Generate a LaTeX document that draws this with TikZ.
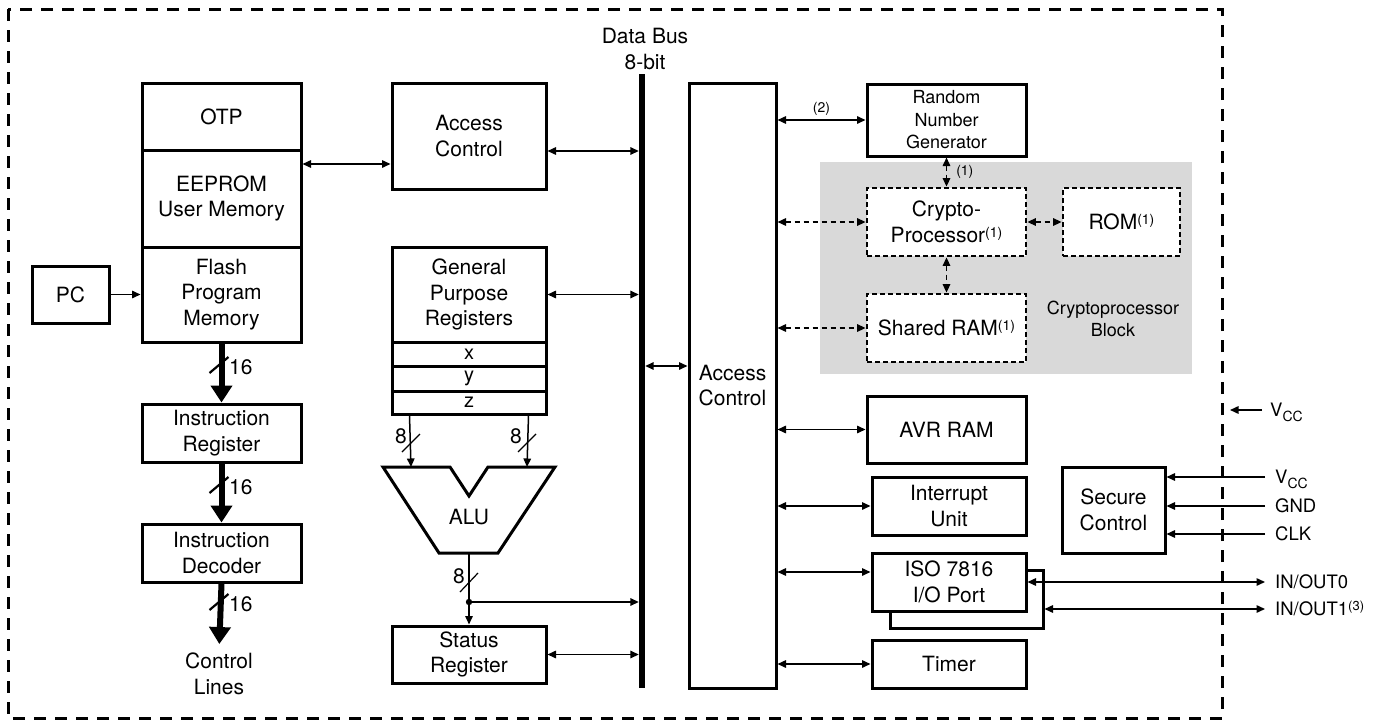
\documentclass[tikz,border=0pt]{standalone}
\usepackage{fontspec}
\setmainfont{TeX Gyre Heros}
\usetikzlibrary{arrows.meta,calc}
\definecolor{cpgray}{HTML}{D9D9D9}
\newcommand\myup[1]{\raisebox{5pt}{\fontsize{14}{14}\selectfont #1}}
\newcommand\mysub[1]{\raisebox{-5pt}{\fontsize{14}{14}\selectfont #1}}
\begin{document}
\begin{tikzpicture}[x=1pt,y=-1pt,
  every node/.style={font=\fontsize{21}{25.5}\selectfont, inner sep=0pt},
  box/.style={draw, line width=3pt, fill=white, align=center},
  dbox/.style={draw, line width=2.8pt, fill=white, align=center, dash pattern=on 5pt off 3pt},
  arr/.style={line width=1.5pt, -{Triangle[length=8.5pt,width=7.5pt]}},
  dbl/.style={line width=1.5pt, {Triangle[length=8.5pt,width=7.5pt]}-{Triangle[length=8.5pt,width=7.5pt]}},
  ddbl/.style={dbl, dash pattern=on 5pt off 4pt},
  bigarr/.style={line width=6pt, -{Triangle[length=17pt,width=21pt]}},
  fatslash/.style={line width=2.2pt},
  thinslash/.style={line width=1.2pt},
  small/.style={font=\fontsize{14}{14}\selectfont},
  pin/.style={font=\fontsize{18.5}{22}\selectfont, anchor=base west}
]
\useasboundingbox (0,0) rectangle (1377,720);
% outer border
\draw[line width=3pt, dash pattern=on 12pt off 9pt] (8,9) rectangle (1222,718);
% cryptoprocessor block background
\fill[cpgray] (820,162) rectangle (1192,374);

% left column
\node[box, minimum width=159pt, minimum height=67pt] (otp) at (221.5,116.5) {OTP};
\node[box, minimum width=159pt, minimum height=97pt] (eeprom) at (221.5,198.5) {EEPROM\\User Memory};
\node[box, minimum width=159pt, minimum height=95pt] (flash) at (221.5,294.5) {Flash\\Program\\Memory};
\node[box, minimum width=77pt, minimum height=57pt] (pc) at (70.5,294.5) {PC};
\node[box, minimum width=159pt, minimum height=58pt] (ir) at (221.5,433) {Instruction\\Register};
\node[box, minimum width=159pt, minimum height=58pt] (id) at (221.5,553) {Instruction\\Decoder};
\node[align=center] (cl) at (219,674) {Control\\Lines};

% second column
\node[box, minimum width=154pt, minimum height=106pt] (acs) at (469,136) {Access\\Control};
\node[box, minimum width=154pt, minimum height=95pt] (gpr) at (469,294.5) {General\\Purpose\\Registers};
\node[box, minimum width=154pt, minimum height=24pt, font=\fontsize{20}{20}\selectfont] (rx) at (469,354) {x};
\node[box, minimum width=154pt, minimum height=25pt, font=\fontsize{20}{20}\selectfont] (ry) at (469,378.5) {y};
\node[box, minimum width=154pt, minimum height=23pt, font=\fontsize{20}{20}\selectfont] (rz) at (469,402.5) {z};
\draw[line width=3pt, line join=miter] (383,467) -- (450,467) -- (469,496) -- (488,467) -- (555,467) -- (498,553) -- (439,553) -- cycle;
\node (alu) at (469,517) {ALU};
\coordinate (aluL) at (411,467);
\coordinate (aluR) at (527,467);
\coordinate (aluB) at (469,553);
\coordinate (dot) at (469,602);
\node[box, minimum width=154pt, minimum height=57pt] (sr) at (469,654.5) {Status\\Register};

% data bus
\node[fill=black, minimum width=6pt, minimum height=614pt] (bus) at (642,381) {};
\node[align=center] (dbus) at (645,49) {Data Bus\\8-bit};

% big access control
\node[box, minimum width=87pt, minimum height=605pt] (big) at (732.5,385.5) {Access\\Control};

% right column
\node[box, minimum width=159pt, minimum height=72pt, font=\fontsize{18}{22.5}\selectfont] (rng) at (946.5,120) {Random\\Number\\Generator};
\node[dbox, minimum width=159pt, minimum height=68pt] (crypto) at (946.5,222) {Crypto-\\Processor\myup{(1)}};
\node[dbox, minimum width=117pt, minimum height=68pt] (rom) at (1121.5,222) {ROM\myup{(1)}};
\node[dbox, minimum width=159pt, minimum height=68pt] (sram) at (946.5,328) {Shared RAM\myup{(1)}};
\node[align=center, font=\fontsize{18}{22}\selectfont] (cpb) at (1113,319) {Cryptoprocessor\\Block};
\node[box, minimum width=159pt, minimum height=67pt] (avr) at (946.5,429.5) {AVR RAM};
\node[box, minimum width=154pt, minimum height=58pt] (intr) at (949,506) {Interrupt\\Unit};
\node[box, minimum width=153pt, minimum height=58pt] (isob) at (966.5,599) {};
\node[box, minimum width=154pt, minimum height=58pt] (iso) at (949,582) {ISO 7816\\I/O Port};
\node[box, minimum width=154pt, minimum height=48pt] (timer) at (949,664) {Timer};
\node[box, minimum width=103pt, minimum height=86pt] (secure) at (1113.5,510) {Secure\\Control};

% left connectors
\draw[arr] (pc.east) -- (flash.west);
\draw[bigarr] (flash.south) -- (ir.north);
\draw[bigarr] (ir.south) -- (id.north);
\draw[bigarr, shorten >=9pt] (id.south) -- (cl.north);
\draw[fatslash] (209.5,373) -- (228.5,357);
\draw[fatslash] (209.5,493) -- (228.5,477);
\draw[fatslash] (209.5,610) -- (228.5,594);
\node[anchor=west] (n16a) at (229,367) {16};
\node[anchor=west] (n16b) at (229,487) {16};
\node[anchor=west] (n16c) at (229,604) {16};

\coordinate (eein) at ($(acs.west)+(0,28)$);
\draw[dbl] (eein -| eeprom.east) -- (eein);
\coordinate (acsout) at ($(acs.east)+(0,15)$);
\draw[dbl] (acsout) -- (acsout -| bus.west);
\draw[dbl] (gpr.east) -- (gpr.east -| bus.west);
\draw[dbl] (sr.east) -- (sr.east -| bus.west);

\draw[arr] ($(rz.south west)+(19,0)$) -- (aluL);
\draw[arr] ($(rz.south east)+(-19,0)$) -- (aluR);
\draw[arr] (aluB) -- (sr.north);
\draw[arr] (dot) -- (dot -| bus.west);
\fill (dot) circle (3.2pt);
\draw[thinslash] (402,452) -- (420,434);
\draw[thinslash] (518,452) -- (536,434);
\draw[thinslash] (460,592) -- (478,573);
\node (e1) at (401,436) {8};
\node (e2) at (516,436) {8};
\node (e3) at (459,576) {8};

\coordinate (bb) at ($(bus.east)+(0,-15)$);
\draw[dbl] (bb) -- (bb -| big.west);

% right connectors
\draw[dbl] (rng.west -| big.east) -- (rng.west) node[midway, above=4pt, small] (l2) {(2)};
\draw[ddbl] (crypto.west -| big.east) -- (crypto.west);
\draw[ddbl] (sram.west -| big.east) -- (sram.west);
\draw[ddbl] (crypto.east) -- (rom.west);
\draw[ddbl] (rng.south) -- (crypto.north) node[midway, right=9pt, small] (l1) {(1)};
\draw[ddbl] (crypto.south) -- (sram.north);
\draw[dbl] (avr.west -| big.east) -- (avr.west);
\draw[dbl] (intr.west -| big.east) -- (intr.west);
\coordinate (isoin) at ($(iso.west)+(0,-10)$);
\draw[dbl] (isoin -| big.east) -- (isoin);
\draw[dbl] (timer.west -| big.east) -- (timer.west);

% external pins
\coordinate (vt) at (1262,410);
\coordinate (vtip) at (1230,410);
\draw[arr] (vt) -- (vtip);
\node[pin] (lv0) at (1270,416.5) {V\mysub{CC}};
\coordinate (pV) at (1265,477);
\coordinate (pG) at (1265,506);
\coordinate (pC) at (1265,534);
\coordinate (pI0) at (1265,582);
\coordinate (pI1) at (1265,609);
\draw[arr] (pV) -- (pV -| secure.east);
\draw[arr] (pG) -- (pG -| secure.east);
\draw[arr] (pC) -- (pC -| secure.east);
\draw[dbl] (pI0 -| iso.east) -- (pI0);
\draw[dbl] (pI1 -| isob.east) -- (pI1);
\node[pin] (lv1) at (1275,483.5) {V\mysub{CC}};
\node[pin] (lg) at (1275,512.5) {GND};
\node[pin] (lc) at (1275,540.5) {CLK};
\node[pin] (li0) at (1275,588.5) {IN/OUT0};
\node[pin] (li1) at (1275,615.5) {IN/OUT1\raisebox{5pt}{\fontsize{13}{13}\selectfont(3)}};
\end{tikzpicture}
\end{document}
